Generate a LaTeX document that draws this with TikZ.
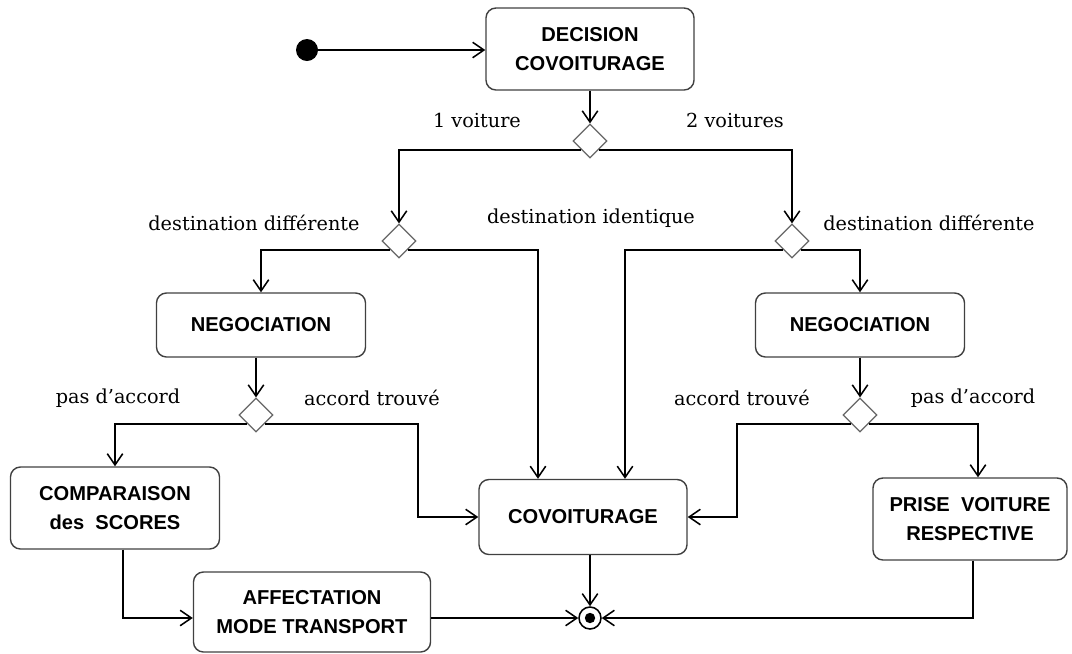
\documentclass[tikz,border=0pt]{standalone}
\usepackage{fontspec}
\setmainfont{DejaVu Serif}
\newfontfamily\boxfont{Liberation Sans}
\usetikzlibrary{arrows.meta,shapes.geometric}

\begin{document}
\begin{tikzpicture}[
  x=0.025cm, y=-0.025cm,
  act/.style={rectangle, rounded corners=0.25cm, draw=black!75, line width=1pt, align=center, inner sep=0pt, font=\boxfont\bfseries\fontsize{14.3}{21}\selectfont},
  choice/.style={diamond, draw=black!60, line width=0.8pt, fill=white, minimum width=0.85cm, minimum height=0.85cm, inner sep=0pt},
  flow/.style={line width=1.1pt, -{Straight Barb[length=8pt,width=11pt]}},
  lbl/.style={font=\fontsize{13.7}{16}\selectfont}
]
\useasboundingbox (0,0) rectangle (1072,653);

\node[circle, fill=black, minimum size=0.55cm, inner sep=0pt] (start) at (307,50) {};
\node[act, minimum width=5.2cm, minimum height=2.05cm] (dec) at (590,49) {DECISION\\COVOITURAGE};

\node[choice] (d1) at (590,141) {};
\node[choice] (d2) at (399,241) {};
\node[choice] (d4) at (792,241) {};

\node[act, minimum width=5.225cm, minimum height=1.6cm] (neg1) at (261,325) {NEGOCIATION};
\node[act, minimum width=5.225cm, minimum height=1.6cm] (neg2) at (860,325) {NEGOCIATION};

\node[choice] (d3) at (256,415) {};
\node[choice] (d5) at (860,415) {};

\node[act, minimum width=5.225cm, minimum height=2.05cm] (cmp) at (115,508) {COMPARAISON\\des\ \ SCORES};
\node[act, minimum width=5.2cm, minimum height=1.875cm] (cov) at (583,517) {COVOITURAGE};
\node[act, minimum width=4.85cm, minimum height=2.05cm] (prise) at (970,519) {PRISE\ \ VOITURE\\RESPECTIVE};
\node[act, minimum width=5.925cm, minimum height=2cm] (aff) at (312,612) {AFFECTATION\\MODE TRANSPORT};

\node[circle, draw, line width=1.1pt, fill=white, minimum size=0.55cm, inner sep=0pt] (fin) at (590,618) {};
\fill (fin) circle (0.13cm);

\coordinate (j1) at (418,421);
\coordinate (j2) at (737,421);

\node[lbl] (l1) at (477,120) {1 voiture};
\node[lbl] (l2) at (735,120) {2 voitures};
\node[lbl] (l3) at (254,223) {destination différente};
\node[lbl] (l4) at (591,218) {destination identique};
\node[lbl] (l5) at (929,223) {destination différente};
\node[lbl] (l6) at (118,398) {pas d’accord};
\node[lbl] (l7) at (372,398) {accord trouvé};
\node[lbl] (l8) at (742,398) {accord trouvé};
\node[lbl] (l9) at (973,398) {pas d’accord};

\draw[flow] (start) -- (dec.west |- start);
\draw[flow] (dec.south) -- (d1.north);
\draw[flow] (d1.south west) -| (d2.north);
\draw[flow] (d1.south east) -| (d4.north);
\draw[flow] (d2.south west) -| (neg1.north);
\draw[flow] (d2.south east) -| ([xshift=-1.125cm]cov.north);
\draw[flow] (d4.south west) -| ([xshift=1.05cm]cov.north);
\draw[flow] (d4.south east) -| (neg2.north);
\draw[flow] (neg1.south -| d3) -- (d3.north);
\draw[flow] (neg2.south) -- (d5.north);
\draw[flow] (d3.south west) -| (cmp.north);
\draw[flow] (d3.south east) -| (j1 |- cov.west) -- (cov.west);
\draw[flow] (d5.south west) -| (j2 |- cov.east) -- (cov.east);
\draw[flow] (d5.south east) -| ([xshift=0.2cm]prise.north);
\draw[flow] ([xshift=0.2cm]cmp.south) |- (aff.west |- fin);
\draw[flow] (aff.east |- fin) -- (fin.west);
\draw[flow] (cov.south -| fin) -- (fin.north);
\draw[flow] ([xshift=0.075cm]prise.south) |- (fin.east);
\end{tikzpicture}
\end{document}
